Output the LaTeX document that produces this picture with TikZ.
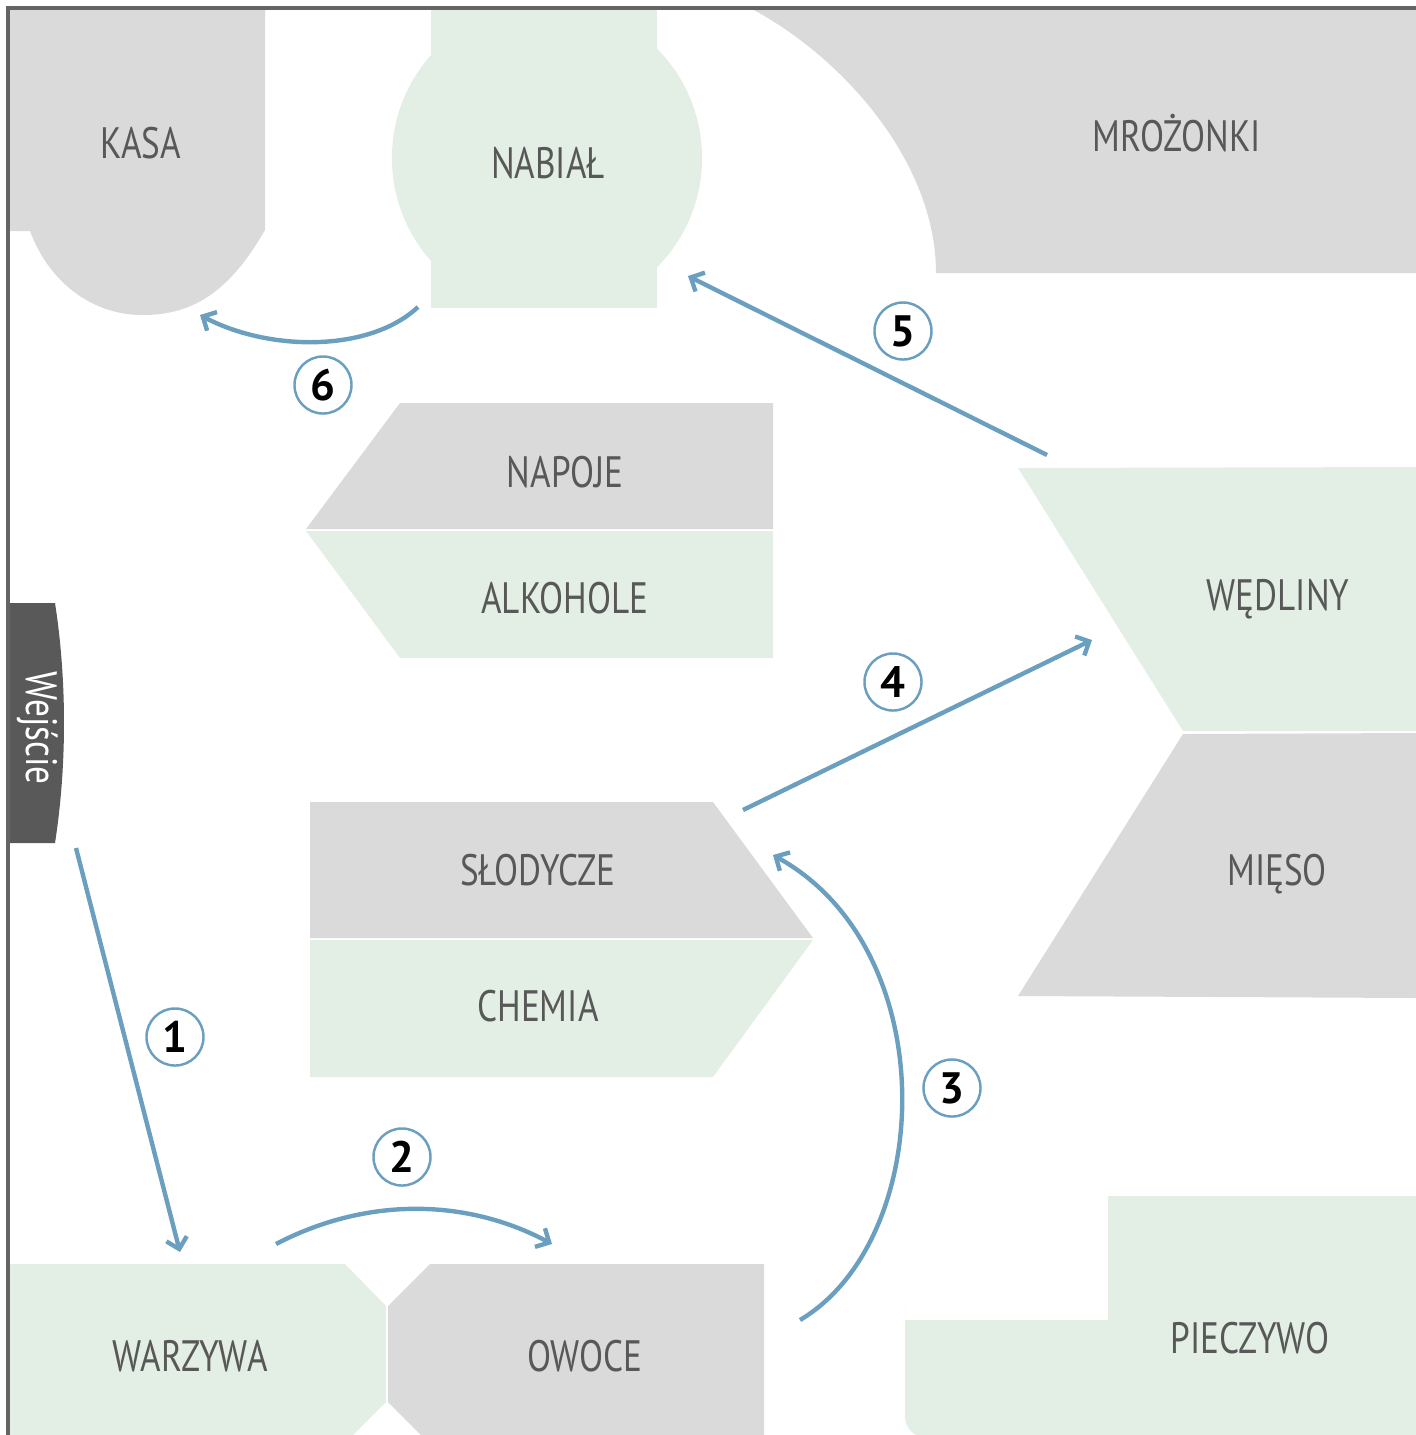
\documentclass[tikz,border=0pt]{standalone}
\usepackage{fontspec}
\setmainfont[FakeStretch=0.8]{PT Sans}
\newfontfamily\numfont{PT Sans}
\usetikzlibrary{arrows.meta, positioning}
\definecolor{shelfgray}{RGB}{218,218,218}
\definecolor{shelfgreen}{RGB}{227,239,228}
\definecolor{labelgray}{RGB}{88,88,88}
\definecolor{doorgray}{RGB}{89,89,89}
\definecolor{pathblue}{RGB}{107,159,191}
\definecolor{wallgray}{RGB}{100,100,100}

\begin{document}
\begin{tikzpicture}[x=0.01cm, y=-0.01cm,
    dept/.style={text=labelgray, font=\fontsize{12.5}{14}\selectfont},
    route/.style={pathblue, line width=1.25pt, -{Straight Barb[length=3pt,width=6pt]}},
    stepnum/.style={circle, draw=pathblue, line width=0.7pt, fill=white, minimum size=0.57cm, inner sep=0pt, font=\numfont\bfseries\fontsize{12.5}{14}\selectfont}]
    \useasboundingbox (0,0) rectangle (1416,1435);

    % shelves
    \begin{scope}
        \clip (8,8) rectangle (1416,1435);
        \fill[shelfgray] (8,8) -- (265,8) -- (265,230) .. controls (225,300) and (185,315) .. (142,315)
            .. controls (95,315) and (50,285) .. (30,231) -- (8,231) -- cycle;
        \fill[shelfgreen] (431,8) rectangle (657,308);
        \begin{scope}
            \clip (380,8) rectangle (720,300);
            \fill[shelfgreen] (547,158) circle[radius=1.55cm];
        \end{scope}
        \fill[shelfgray] (750,8) -- (1416,8) -- (1416,273) -- (936,273) .. controls (936,160) and (840,55) .. (750,8) -- cycle;
        \fill[shelfgray] (400,403) -- (773,403) -- (773,529) -- (306,529) -- cycle;
        \fill[shelfgreen] (306,531) -- (773,531) -- (773,658) -- (400,658) -- cycle;
        \fill[shelfgreen] (1018,468) -- (1416,467) -- (1416,731) -- (1183,731) -- cycle;
        \fill[shelfgray] (1183,734) -- (1416,733) -- (1416,998) -- (1018,996) -- cycle;
        \fill[shelfgray] (310,802) -- (713,802) -- (813,938) -- (310,938) -- cycle;
        \fill[shelfgreen] (310,940) -- (813,940) -- (713,1077) -- (310,1077) -- cycle;
        \fill[shelfgreen] (8,1264) -- (345,1264) -- (386,1306) -- (386,1402) -- (353,1435) -- (8,1435) -- cycle;
        \fill[shelfgray] (430,1264) -- (764,1264) -- (764,1435) -- (421,1435) -- (388,1402) -- (388,1306) -- cycle;
        \fill[shelfgreen] (905,1320) -- (1108,1320) -- (1108,1196) -- (1416,1196) -- (1416,1437)
            {[rounded corners=0.2cm] -- (905,1437) -- (905,1320)} -- cycle;
        \fill[doorgray] (8,603) -- (55,603) .. controls (67,680) and (67,766) .. (55,843) -- (8,843) -- cycle;
    \end{scope}

    % walls
    \draw[wallgray, line width=0.9pt] (8,1435) -- (8,8) -- (1416,8);

    % labels
    \node[dept] (kasa) at (141,143) {KASA};
    \node[dept] (nabial) at (548,163) {NABIAŁ};
    \node[dept] (mrozonki) at (1177,133) {MROŻONKI};
    \node[dept] (napoje) at (565,472) {NAPOJE};
    \node[dept] (alkohole) at (565,598) {ALKOHOLE};
    \node[dept] (wedliny) at (1278,599) {WĘDLINY};
    \node[dept] (mieso) at (1277,874) {MIĘSO};
    \node[dept] (slodycze) at (538,870) {SŁODYCZE};
    \node[dept] (chemia) at (538,1006) {CHEMIA};
    \node[dept] (warzywa) at (190,1356) {WARZYWA};
    \node[dept] (owoce) at (585,1356) {OWOCE};
    \node[dept] (pieczywo) at (1250,1338) {PIECZYWO};
    \node[dept, text=white, rotate=-90] (wejscie) at (38,728) {Wejście};

    % route ends
    \coordinate (r1a) at (76,848);
    \coordinate (r1b) at (180,1252);
    \coordinate (r2a) at (276,1244);
    \coordinate (r2b) at (552,1244);
    \coordinate (r3a) at (800,1320);
    \coordinate (r3b) at (773,855);
    \coordinate (r4a) at (743,810);
    \coordinate (r4b) at (1092,640);
    \coordinate (r5a) at (1047,455);
    \coordinate (r5b) at (688,276);
    \coordinate (r6a) at (418,307);
    \coordinate (r6b) at (200,315);

    \draw[route] (r1a) -- (r1b);
    \draw[route] (r2a) .. controls (370,1195) and (470,1200) .. (r2b);
    \draw[route] (r3a) .. controls (935,1240) and (945,950) .. (r3b);
    \draw[route] (r4a) -- (r4b);
    \draw[route] (r5a) -- (r5b);
    \draw[route] (r6a) .. controls (370,352) and (270,352) .. (r6b);

    % step numbers
    \node[stepnum] (n1) at (175,1037) {1};
    \node[stepnum] (n2) at (402,1157) {2};
    \node[stepnum] (n3) at (952,1088) {3};
    \node[stepnum] (n4) at (893,682) {4};
    \node[stepnum] (n5) at (903,331) {5};
    \node[stepnum] (n6) at (323,385) {6};
\end{tikzpicture}
\end{document}
